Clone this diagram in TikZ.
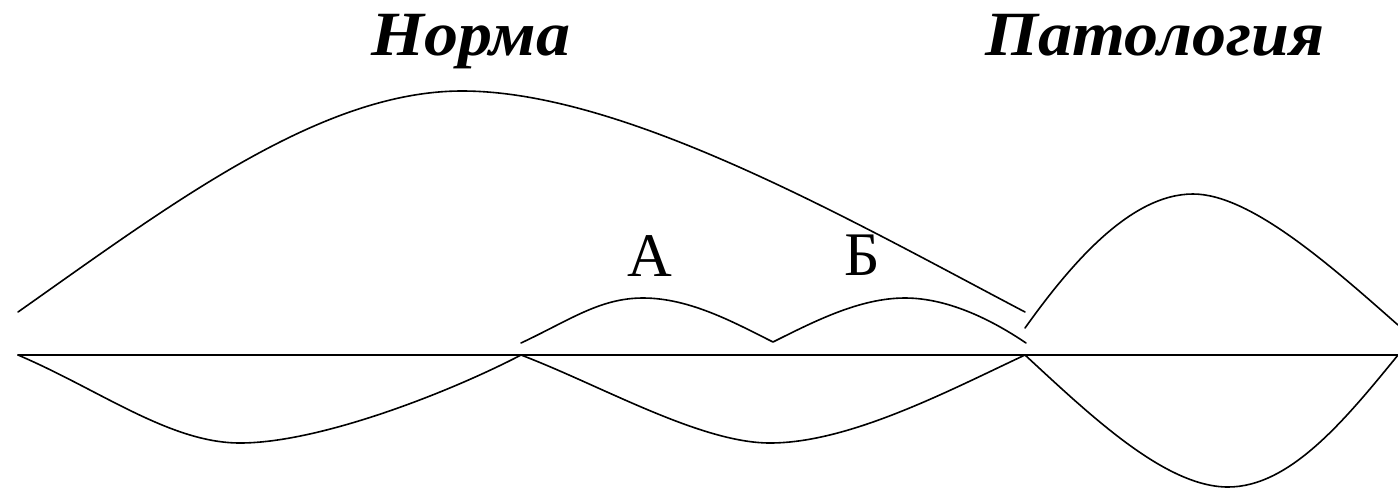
\documentclass[tikz,border=0pt]{standalone}
\usepackage{fontspec}
\setmainfont{Liberation Serif}
\newfontfamily\titlefont{Liberation Serif}[FakeStretch=1.08]
\tikzset{
  curve/.style={line width=1.6pt, black, line cap=round, line join=round},
  title/.style={font=\titlefont\fontsize{63}{70}\selectfont\bfseries\itshape, anchor=base, inner sep=0pt},
  letter/.style={font=\fontsize{62}{70}\selectfont, anchor=base, inner sep=0pt}
}
\begin{document}
\begin{tikzpicture}[x=1pt,y=-1pt]
\useasboundingbox (0,0) rectangle (1398,491);
% titles
\node[title] (norma) at (471,55) {Норма};
\node[title] (pat) at (1155,55) {Патология};
% labels
\node[letter] (la) at (650,276) {А};
\node[letter] (lb) at (862,275) {Б};
% axis
\coordinate (a0) at (18,355);
\coordinate (a1) at (521,355);
\coordinate (a2) at (1025,355);
\coordinate (a3) at (1398,355);
\draw[curve] (a0) -- (a3);
% big arc (norm)
\draw[curve] (18,312) .. controls (170,205) and (320,91) .. (462,91)
  .. controls (625,91) and (850,220) .. (1025,312);
% lower arcs (norm)
\draw[curve] (a0) .. controls (100,390) and (170,443) .. (240,443)
  .. controls (320,443) and (450,392) .. (a1);
\draw[curve] (a1) .. controls (600,385) and (700,443) .. (770,443)
  .. controls (850,443) and (950,390) .. (a2);
% bumps A and B
\draw[curve] (521,343) .. controls (570,320) and (600,298) .. (643,298)
  .. controls (690,298) and (735,323) .. (773,342)
  .. controls (815,321) and (860,298) .. (905,298)
  .. controls (950,298) and (995,322) .. (1026,343);
% pathology
\draw[curve] (1025,328) .. controls (1070,265) and (1130,194) .. (1193,194)
  .. controls (1250,194) and (1330,265) .. (1398,325);
\draw[curve] (a2) .. controls (1090,415) and (1165,487) .. (1228,487)
  .. controls (1290,487) and (1345,420) .. (a3);
\end{tikzpicture}
\end{document}
